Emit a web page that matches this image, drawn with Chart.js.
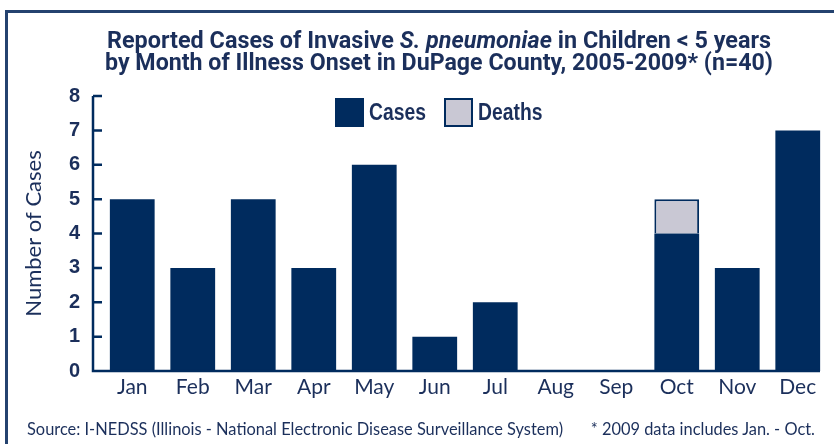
<!DOCTYPE html>
<html lang="en">
  <head>
    <meta charset="UTF-8" />
    <title>Invasive S. pneumoniae by month</title>
    <script src="https://cdn.jsdelivr.net/npm/chart.js@4"></script>
    <style>
      body {
        margin: 0;
        width: 834px;
        height: 444px;
        position: relative;
        overflow: hidden;
        background: #fff;
        color: #1b2f5b;
      }
      .frame {
        position: absolute;
        left: 5px;
        top: 10px;
        width: 840px;
        height: 450px;
        border-top: 3px solid #24426f;
        border-left: 3px solid #24426f;
      }
      .title-line {
        position: absolute;
        white-space: nowrap;
        font-family: Roboto;
        font-weight: bold;
        font-size: 23px;
        line-height: 22px;
        transform-origin: left top;
      }
      .lg {
        position: absolute;
        top: 98px;
      }
      .lg.box {
        width: 29px;
        height: 29px;
        box-sizing: border-box;
      }
      .lg.txt {
        top: 99px;
        font-family: "Liberation Sans", Arial;
        font-weight: bold;
        font-size: 23px;
        line-height: 26px;
        white-space: nowrap;
        transform-origin: left top;
        transform: scaleX(0.84);
      }
      .chart-box {
        position: absolute;
        left: 0;
        top: 0;
        width: 834px;
        height: 444px;
      }
      .footer {
        position: absolute;
        top: 419px;
        font-family: Lato;
        font-size: 16.4px;
        white-space: nowrap;
        color: #1b2f5b;
      }
    </style>
  </head>
  <body>
    <div class="frame"></div>
    <div class="chart-box">
      <canvas id="myChart"></canvas>
    </div>
    <div class="title-line" id="t1" style="top: 30px">
      Reported Cases of Invasive <i>S. pneumoniae</i> in Children &lt; 5 years
    </div>
    <div class="title-line" id="t2" style="top: 52px">
      by Month of Illness Onset in DuPage County, 2005-2009* (n=40)
    </div>
    <div class="lg box" style="left: 335px; background: #002b5e"></div>
    <div class="lg txt" style="left: 369px">Cases</div>
    <div class="lg box" style="left: 444px; background: #c9c8d4; border: 2px solid #002b5e"></div>
    <div class="lg txt" style="left: 478px">Deaths</div>
    <div class="footer" style="left: 27px">
      Source: I-NEDSS (Illinois - National Electronic Disease Surveillance System)
    </div>
    <div class="footer" style="right: 19px">* 2009 data includes Jan. - Oct.</div>
    <script>
      const months = ["Jan", "Feb", "Mar", "Apr", "May", "Jun", "Jul", "Aug", "Sep", "Oct", "Nov", "Dec"];
      const cases = [5, 3, 5, 3, 6, 1, 2, 0, 0, 4, 3, 7];
      const deaths = [0, 0, 0, 0, 0, 0, 0, 0, 0, 1, 0, 0];
      const yTicks = [0, 1, 2, 3, 4, 5, 6, 7, 8];

      const navy = "#002b5e";
      const textNavy = "#1b2f5b";

      // squeeze the title lines to the condensed width of the original
      const fitTitle = function (id, left, width) {
        const el = document.getElementById(id);
        const w = el.getBoundingClientRect().width;
        el.style.left = left + "px";
        el.style.transform = "scaleX(" + width / w + ")";
      };
      fitTitle("t1", 107, 664);
      fitTitle("t2", 105, 668);

      // axis lines with short inside ticks, drawn like the original
      const axisLines = {
        id: "axisLines",
        afterDatasetsDraw(chart) {
          const c = chart.ctx;
          const area = chart.chartArea;
          const y = chart.scales.y;
          const x0 = area.left - 9;
          c.save();
          c.strokeStyle = navy;
          c.lineWidth = 2.5;
          c.beginPath();
          c.moveTo(x0, y.getPixelForValue(8));
          c.lineTo(x0, y.getPixelForValue(0));
          c.lineTo(area.right - 8, y.getPixelForValue(0));
          yTicks.forEach(function (v) {
            const py = y.getPixelForValue(v);
            c.moveTo(x0, py);
            c.lineTo(x0 + 9, py);
          });
          c.stroke();
          c.restore();
        },
      };

      const ctx = document.getElementById("myChart");
      new Chart(ctx, {
        type: "bar",
        data: {
          labels: months,
          datasets: [
            {
              label: "Cases",
              data: cases,
              backgroundColor: navy,
              borderWidth: 0,
            },
            {
              label: "Deaths",
              data: deaths,
              backgroundColor: "#c9c8d4",
              borderColor: navy,
              borderWidth: 2,
            },
          ],
        },
        options: {
          responsive: true,
          maintainAspectRatio: false,
          animation: false,
          categoryPercentage: 1,
          barPercentage: 0.74,
          layout: {
            padding: { top: 96, right: 6, left: 0, bottom: 44 },
          },
          plugins: {
            legend: { display: false },
            tooltip: { enabled: false },
          },
          scales: {
            x: {
              stacked: true,
              grid: { display: false, drawTicks: false },
              border: { display: false },
              ticks: {
                padding: 4,
                color: textNavy,
                font: { family: "Lato", size: 21 },
              },
              afterFit(scale) {
                scale.height = 29;
              },
            },
            y: {
              stacked: true,
              min: 0,
              max: 8,
              grid: { display: false, drawTicks: false },
              border: { display: false },
              ticks: {
                stepSize: 1,
                padding: 22,
                color: textNavy,
                font: { family: "Liberation Sans", size: 20, weight: "bold" },
              },
              title: {
                display: true,
                text: "Number of Cases",
                color: textNavy,
                font: { family: "Lato", size: 22 },
                padding: { top: 21, bottom: 0 },
              },
              afterFit(scale) {
                scale.width = 102;
              },
            },
          },
        },
        plugins: [axisLines],
      });
    </script>
  </body>
</html>
